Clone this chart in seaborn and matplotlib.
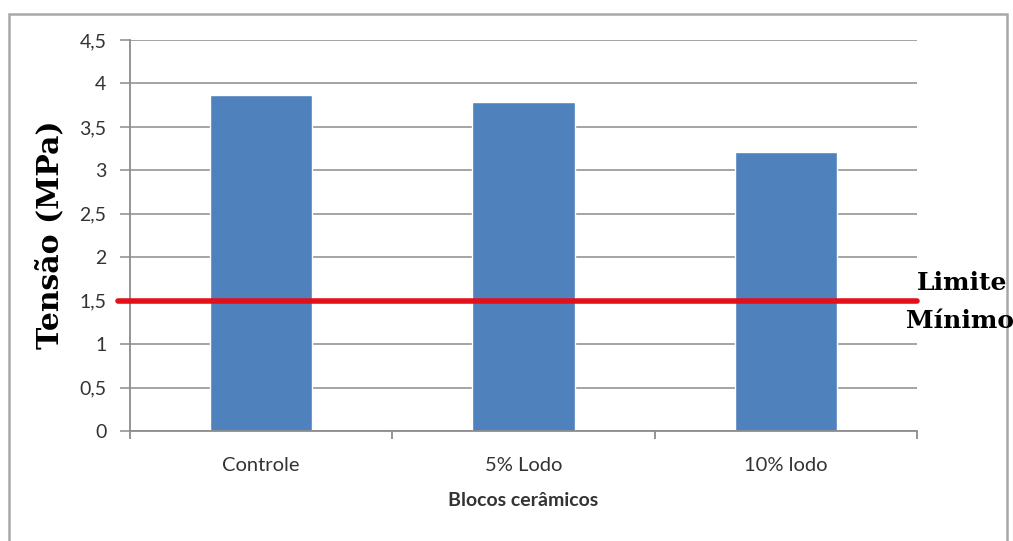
import matplotlib
matplotlib.use("Agg")
import matplotlib.pyplot as plt
import seaborn as sns
import pandas as pd
from matplotlib.patches import Rectangle
from matplotlib.ticker import FixedLocator, FuncFormatter

categories = ["Controle", "5% Lodo", "10% lodo"]
values = [3.87, 3.79, 3.21]
yticks = [0, 0.5, 1, 1.5, 2, 2.5, 3, 3.5, 4, 4.5]
limit_value = 1.5

sns.set_theme(style="white")
plt.rcParams['font.family'] = ['Lato', 'DejaVu Sans']

fig = plt.figure(figsize=(10.13, 5.41), dpi=100)
ax = fig.add_axes([130/1013, 110/541, 787/1013, 391/541])

df = pd.DataFrame({"cat": categories, "val": values})
sns.barplot(data=df, x="cat", y="val", color="#4F81BD", saturation=1, width=0.39, ax=ax)

ax.set_xlim(-0.5, 2.5)
ax.set_ylim(0, 4.5)
ax.set_yticks(yticks)
ax.yaxis.set_major_formatter(FuncFormatter(lambda v, p: ("%g" % v).replace(".", ",")))
ax.yaxis.grid(True, color="#8c8c8c", linewidth=1.1)
ax.set_axisbelow(True)

for s in ["top", "right"]:
    ax.spines[s].set_visible(False)
for s in ["left", "bottom"]:
    ax.spines[s].set_color("#8c8c8c")
    ax.spines[s].set_linewidth(1.3)

ax.tick_params(axis="y", which="major", length=7, width=1.1, color="#8c8c8c",
               direction="out", left=True, labelsize=14, labelcolor="#333333", pad=10)
ax.tick_params(axis="x", which="major", length=0, labelsize=14.5, labelcolor="#333333", pad=19)
ax.xaxis.set_minor_locator(FixedLocator([-0.5, 0.5, 1.5, 2.5]))
ax.tick_params(axis="x", which="minor", length=6, width=1.3, color="#8c8c8c",
               direction="out", bottom=True)

ax.set_xlabel("Blocos cerâmicos", fontsize=14, fontweight="bold", color="#333333", labelpad=13)
ax.set_ylabel("")

ax.axhline(limit_value, xmin=-0.015, xmax=1.0, color="#e3101a", linewidth=4, clip_on=False, zorder=5)

fig.text(50/1013, 1 - 235/541, "Tensão (MPa)", rotation=90, ha="center", va="center",
         fontsize=21.5, fontweight="bold", family="DejaVu Serif", color="black")
fig.text(962/1013, 1 - 283/541, "Limite", ha="center", va="center",
         fontsize=18, fontweight="bold", family="DejaVu Serif", color="black")
fig.text(960/1013, 1 - 321/541, "Mínimo", ha="center", va="center",
         fontsize=18, fontweight="bold", family="DejaVu Serif", color="black")

fig.patches.append(Rectangle((9/1013, -0.05), 998/1013, 1.05 - 14/541,
                             transform=fig.transFigure, fill=False,
                             edgecolor="#a8a8a8", linewidth=1.8))

fig.savefig("out.png", dpi=100)
